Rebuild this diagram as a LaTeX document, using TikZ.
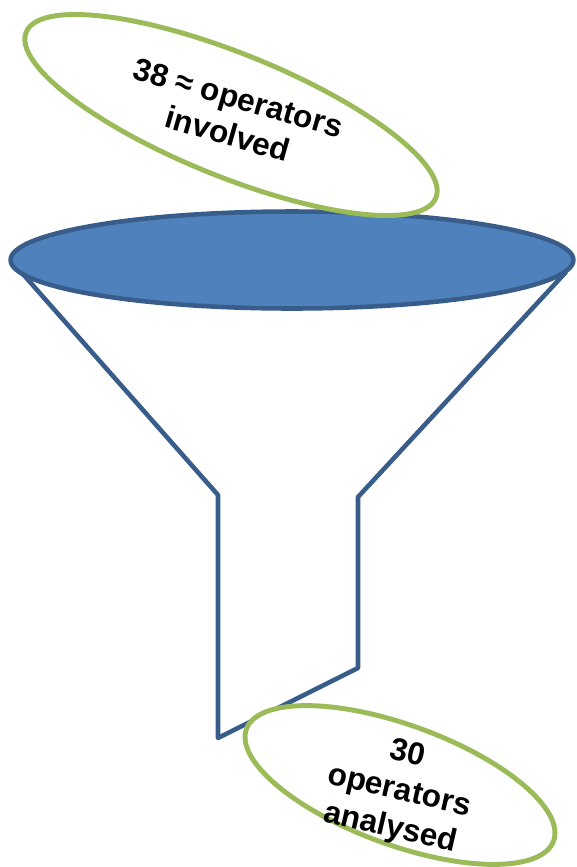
\documentclass[tikz,border=0pt]{standalone}
\usepackage{fontspec}
\setmainfont{Liberation Sans}
\usepackage{xcolor}
\usepackage{tikz}
\usetikzlibrary{shapes.geometric, positioning, calc}

\definecolor{rimblue}{HTML}{4F81BD}
\definecolor{edgeblue}{HTML}{385D8A}
\definecolor{leafgreen}{HTML}{9BBB59}

\begin{document}
\begin{tikzpicture}[x=0.02cm, y=-0.02cm, line join=round]
    \tikzset{
        rim/.style={ellipse, draw=edgeblue, fill=rimblue, line width=2.6pt, inner sep=0pt, minimum width=11.26cm, minimum height=1.94cm},
        bubble/.style={ellipse, draw=leafgreen, fill=white, line width=2.8pt, inner sep=0pt},
        label/.style={align=center, font=\fontsize{18}{21.5}\selectfont\bfseries},
        funnel/.style={draw=edgeblue, line width=2.6pt}
    }
    \useasboundingbox (0,0) rectangle (576,867);

    % funnel body
    \coordinate (TopL) at (22,273);
    \coordinate (NeckL) at (218,495);
    \coordinate (TipL) at (218,738);
    \coordinate (TipR) at (358,668);
    \coordinate (NeckR) at (358,497);
    \coordinate (TopR) at (566,272);

    \node (Rim) [rim] at (292,260) {};
    \path [funnel] (TopL) -- (NeckL) -- (TipL) -- (TipR) -- (NeckR) -- (TopR);

    % input and output
    \node (InBubble) [bubble, rotate=-22, minimum width=8.84cm, minimum height=2.46cm] at (231,115) {};
    \node (InText) [label, rotate=-16] at (233,116) {38 ≈ operators\\involved};

    \node (OutBubble) [bubble, rotate=-20, minimum width=6.54cm, minimum height=2.4cm] at (400,785) {};
    \node (OutText) [label, rotate=-13] at (399,792) {30\\operators\\analysed};
\end{tikzpicture}
\end{document}
